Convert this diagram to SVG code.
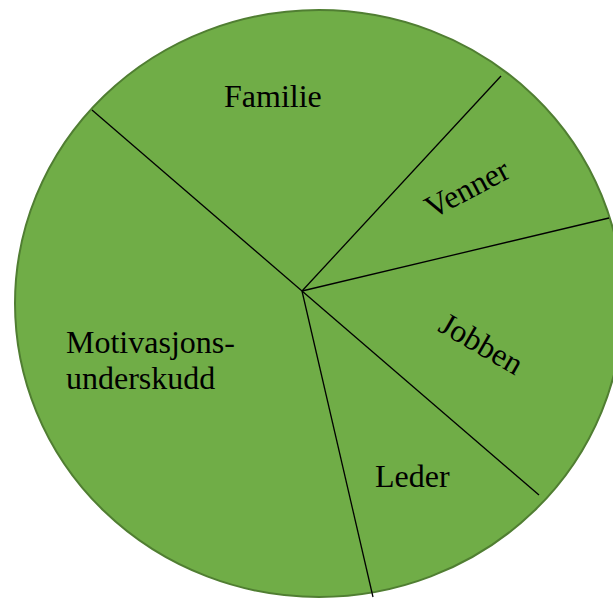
<svg xmlns="http://www.w3.org/2000/svg" width="613" height="598" viewBox="0 0 613 598">
  <style>
    .pie { fill: #70AD47; stroke: #507E32; stroke-width: 2; }
    .divider { stroke: #000000; stroke-width: 1.3; fill: none; }
    .label { font-family: "Liberation Serif", "Times New Roman", serif; font-size: 32px; fill: #000000; }
  </style>
  <rect width="613" height="598" fill="#FFFFFF"/>

  <!-- pie body -->
  <g id="pie">
    <ellipse class="pie" cx="319" cy="303.5" rx="304" ry="293.5"/>
  </g>

  <!-- slice dividers radiating from the hub -->
  <g id="connectors">
    <line class="divider" x1="302" y1="291" x2="92" y2="110"/>
    <line class="divider" x1="302" y1="291" x2="501" y2="76"/>
    <line class="divider" x1="302" y1="291" x2="609" y2="218"/>
    <line class="divider" x1="302" y1="291" x2="539" y2="495"/>
    <line class="divider" x1="302" y1="291" x2="373" y2="597"/>
  </g>

  <g id="familie">
    <text class="label" x="224" y="107">Familie</text>
  </g>
  <g id="venner">
    <text class="label" text-anchor="middle" transform="translate(472 198) rotate(-28)">Venner</text>
  </g>
  <g id="jobben">
    <text class="label" text-anchor="middle" transform="translate(476 353) rotate(30)">Jobben</text>
  </g>
  <g id="leder">
    <text class="label" x="375" y="487">Leder</text>
  </g>
  <g id="motivasjonsunderskudd">
    <text class="label" x="66" y="353">Motivasjons-</text>
    <text class="label" x="66" y="389">underskudd</text>
  </g>
</svg>
